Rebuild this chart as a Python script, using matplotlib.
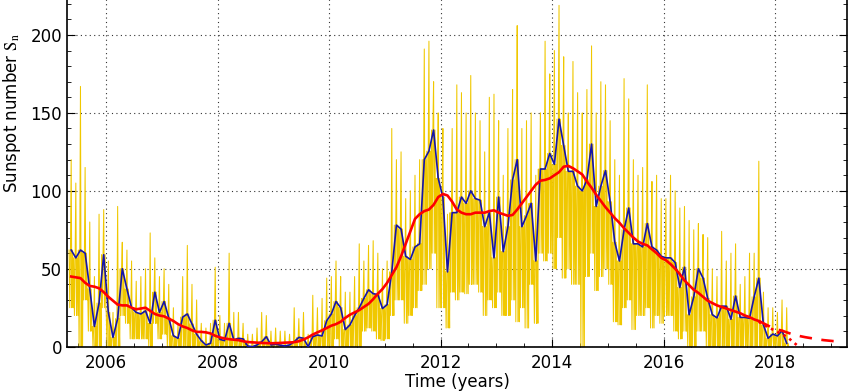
import numpy as np
import matplotlib.pyplot as plt
from matplotlib.ticker import MultipleLocator

plt.rcParams['mathtext.fontset'] = 'stix'

# Primer mes de la serie: mayo 2005
anio_inicio = 2005 + 4 / 12

# Media mensual (may 2005 - mar 2018)
mensual = [62, 57, 62, 60, 37, 13, 28, 59,
           22, 6, 18, 50, 37, 25, 22, 21, 23, 15, 35, 22,
           29, 18.5, 7, 5.4, 19, 21, 14.6, 8, 3.9, 1.1, 2.2, 17,
           4.7, 3.9, 15, 4.3, 5.4, 5, 0.4, 0, 1.1, 3.2, 6.4, 1.1,
           1.5, 1, 0.5, 1.1, 3.2, 6, 5.4, 0, 6.4, 7.5, 6.9, 16.7,
           21, 29, 25, 11, 14, 20, 25, 31, 36.5, 34, 33.5, 24.5,
           27, 48, 78, 75.5, 58, 56, 64, 66, 120, 125.5, 139, 108,
           96, 48, 86, 86, 96, 92, 100, 95, 94, 77, 86, 57,
           96, 61, 77, 107, 120, 77, 84, 92, 55, 114, 114, 124,
           117, 146, 129, 112.5, 112.5, 103, 100, 107, 130, 90, 103, 113,
           93, 67, 55, 75, 89, 66, 66, 64, 79, 64, 62, 58,
           57, 57, 54, 38, 51, 20.5, 32, 50, 44, 31, 20.5, 18.5,
           26, 26, 17.6, 32.5, 18.8, 18.8, 18.2, 32, 44, 13.9, 5.4, 8.1,
           6.9, 10.3, 2.2]

# Media suavizada 13 meses (may 2005 - sep 2017)
suavizada = [45, 44.5, 44, 41, 39, 38.5, 37.5, 35,
             32, 29.5, 27, 26.5, 26.5, 25, 24, 24.5, 25, 23, 21, 20,
             19.5, 18, 16.5, 14.5, 13, 12, 10.5, 9.5, 9.5, 9.2, 8.5, 7,
             6, 5.3, 4.8, 4.5, 4.2, 3.5, 3, 2.8, 2.6, 2.4, 2.3, 2.2,
             2.3, 2.4, 2.6, 2.7, 2.9, 3.5, 4.6, 6, 7.8, 9.2, 10.5, 12,
             13.5, 14.5, 16, 18.5, 20.5, 22, 23.5, 25.5, 27.5, 30.5, 34, 37,
             41, 46, 51, 58, 66, 74, 82, 85, 87, 88, 91, 96,
             98, 97, 93, 88, 86, 85, 85, 86, 86, 86, 87, 87.5,
             86, 85, 84, 84.5, 88, 92, 96, 100, 104, 106.5, 107, 108,
             110, 112, 115.5, 116, 114.5, 112.5, 110.5, 106, 102, 97.5, 93.5, 89.5,
             86, 82.5, 79.5, 76, 73, 70, 67.5, 66, 65, 62.5, 60, 57,
             55.5, 53, 50, 46.5, 42.5, 39.5, 36.5, 34.5, 32, 29.5, 28, 26.5,
             25.5, 24.5, 23.5, 22.5, 21.5, 20, 19, 17.5, 16.5]

# Valores diarios: maximo y minimo de cada mes
diario_max = [120, 105, 167, 115, 80, 45, 85, 88,
              55, 22, 90, 67, 62, 55, 42, 45, 50, 73, 57, 45,
              50, 40, 25, 15, 45, 65, 40, 30, 15, 12, 15, 51,
              20, 15, 60, 22, 22, 15, 8, 8, 12, 22, 20, 10,
              12, 10, 10, 8, 25, 18, 22, 8, 33, 25, 31, 44,
              45, 55, 45, 35, 35, 45, 66, 55, 65, 68, 60, 50,
              55, 140, 120, 125, 95, 100, 110, 120, 191, 196, 170, 150,
              140, 85, 140, 168, 163, 150, 174, 150, 145, 125, 160, 162,
              145, 110, 140, 165, 206, 140, 145, 150, 110, 150, 196, 175,
              190, 219, 186, 150, 183, 163, 150, 165, 193, 150, 170, 168,
              145, 120, 110, 172, 159, 120, 110, 115, 168, 106, 110, 95,
              95, 110, 100, 89, 90, 81, 75, 79, 72, 70, 50, 45,
              74, 55, 60, 66, 40, 45, 60, 60, 119, 35, 25, 25,
              22, 30, 25]
diario_min = [25, 20, 0, 30, 10, 0, 0, 25,
              0, 0, 0, 20, 15, 5, 5, 5, 5, 0, 15, 5,
              8, 0, 0, 0, 0, 0, 0, 0, 0, 0, 0, 0,
              0, 0, 0, 0, 0, 0, 0, 0, 0, 0, 0, 0,
              0, 0, 0, 0, 0, 0, 0, 0, 0, 0, 0, 0,
              0, 5, 0, 0, 0, 0, 0, 10, 12, 10, 5, 4,
              5, 20, 30, 30, 15, 20, 25, 36, 40, 50, 60, 25,
              25, 12, 35, 30, 35, 34, 40, 40, 35, 20, 30, 25,
              35, 20, 20, 30, 16, 25, 12, 40, 15, 60, 55, 60,
              50, 70, 44, 50, 40, 40, 0, 45, 60, 36, 45, 50,
              40, 16, 14, 25, 30, 11, 20, 20, 25, 12, 20, 15,
              20, 20, 10, 5, 10, 0, 0, 10, 10, 0, 0, 0,
              0, 0, 0, 0, 0, 0, 0, 0, 0, 0, 0, 0,
              0, 0, 0]

# Prediccion (sep 2017 - mar 2019) y limite inferior (sep 2017 - jul 2018)
prediccion = [16.5, 15, 13.5, 12, 11, 10.3, 9.2, 8.2, 7.4, 6.7,
              6.1, 5.6, 5.1, 4.6, 4.2, 3.9, 3.6, 3.4, 3.8]
pred_inferior = [16, 14, 12.5, 11, 9.5, 8, 6.5, 4, 1.5, -1, -3]

t_mes = anio_inicio + (np.arange(len(mensual)) + 0.5) / 12
t_suav = t_mes[:len(suavizada)]
t_pred = t_suav[-1] + np.arange(len(prediccion)) / 12
t_inf = t_suav[-1] + np.arange(len(pred_inferior)) / 12

# trazo diario: dentro de cada mes se alternan minimo, media y maximo
t_dia, v_dia = [], []
for i in range(len(mensual)):
    t0 = t_mes[i] - 0.5 / 12
    valores = [mensual[i], diario_min[i], mensual[i], diario_max[i],
               diario_min[i], mensual[i], diario_min[i]]
    fracs = np.linspace(0.05, 0.95, len(valores))
    for frac, v in zip(fracs, valores):
        t_dia.append(t0 + frac / 12)
        v_dia.append(v)

fig = plt.figure(figsize=(8.54, 3.92), dpi=100)
ax = fig.add_axes([67 / 854, 45.3 / 392, 780 / 854, 467.6 / 392])

ax.plot(t_dia, v_dia, color='#f0c800', lw=0.75, zorder=2)
ax.plot(t_mes, mensual, color='#1414aa', lw=1.2, zorder=3)
ax.plot(t_suav, suavizada, color='#ff0000', lw=1.9, zorder=4)
ax.plot(t_pred, prediccion, color='#ff0000', lw=1.9, dashes=(4.7, 3.6), zorder=4)
ax.plot(t_inf, pred_inferior, color='#ff0000', lw=1.9, ls=':', zorder=4)

ax.set_xlim(2005.3, 2019.29)
ax.set_ylim(0, 300)
ax.set_xticks(range(2006, 2019, 2))
ax.set_yticks(range(0, 201, 50))
ax.xaxis.set_minor_locator(MultipleLocator(0.5))
ax.yaxis.set_minor_locator(MultipleLocator(10))
ax.tick_params(which='both', direction='in', top=True, right=True, labelsize=12)
ax.tick_params(which='major', length=6)
ax.tick_params(which='minor', length=3)
ax.tick_params(axis='x', pad=5)

ax.grid(True, which='major', ls=(0, (1, 3)), color='#333333', lw=0.8)
ax.set_axisbelow(True)
for s in ax.spines.values():
    s.set_linewidth(1.2)

ax.set_xlabel('Time (years)', fontsize=12)
ax.set_ylabel(r'Sunspot number $\mathrm{S_n}$', fontsize=12)
ax.xaxis.set_label_coords(0.5, -0.057)
ax.yaxis.set_label_coords(-0.057, 0.5)

fig.savefig('out.png', dpi=100)
